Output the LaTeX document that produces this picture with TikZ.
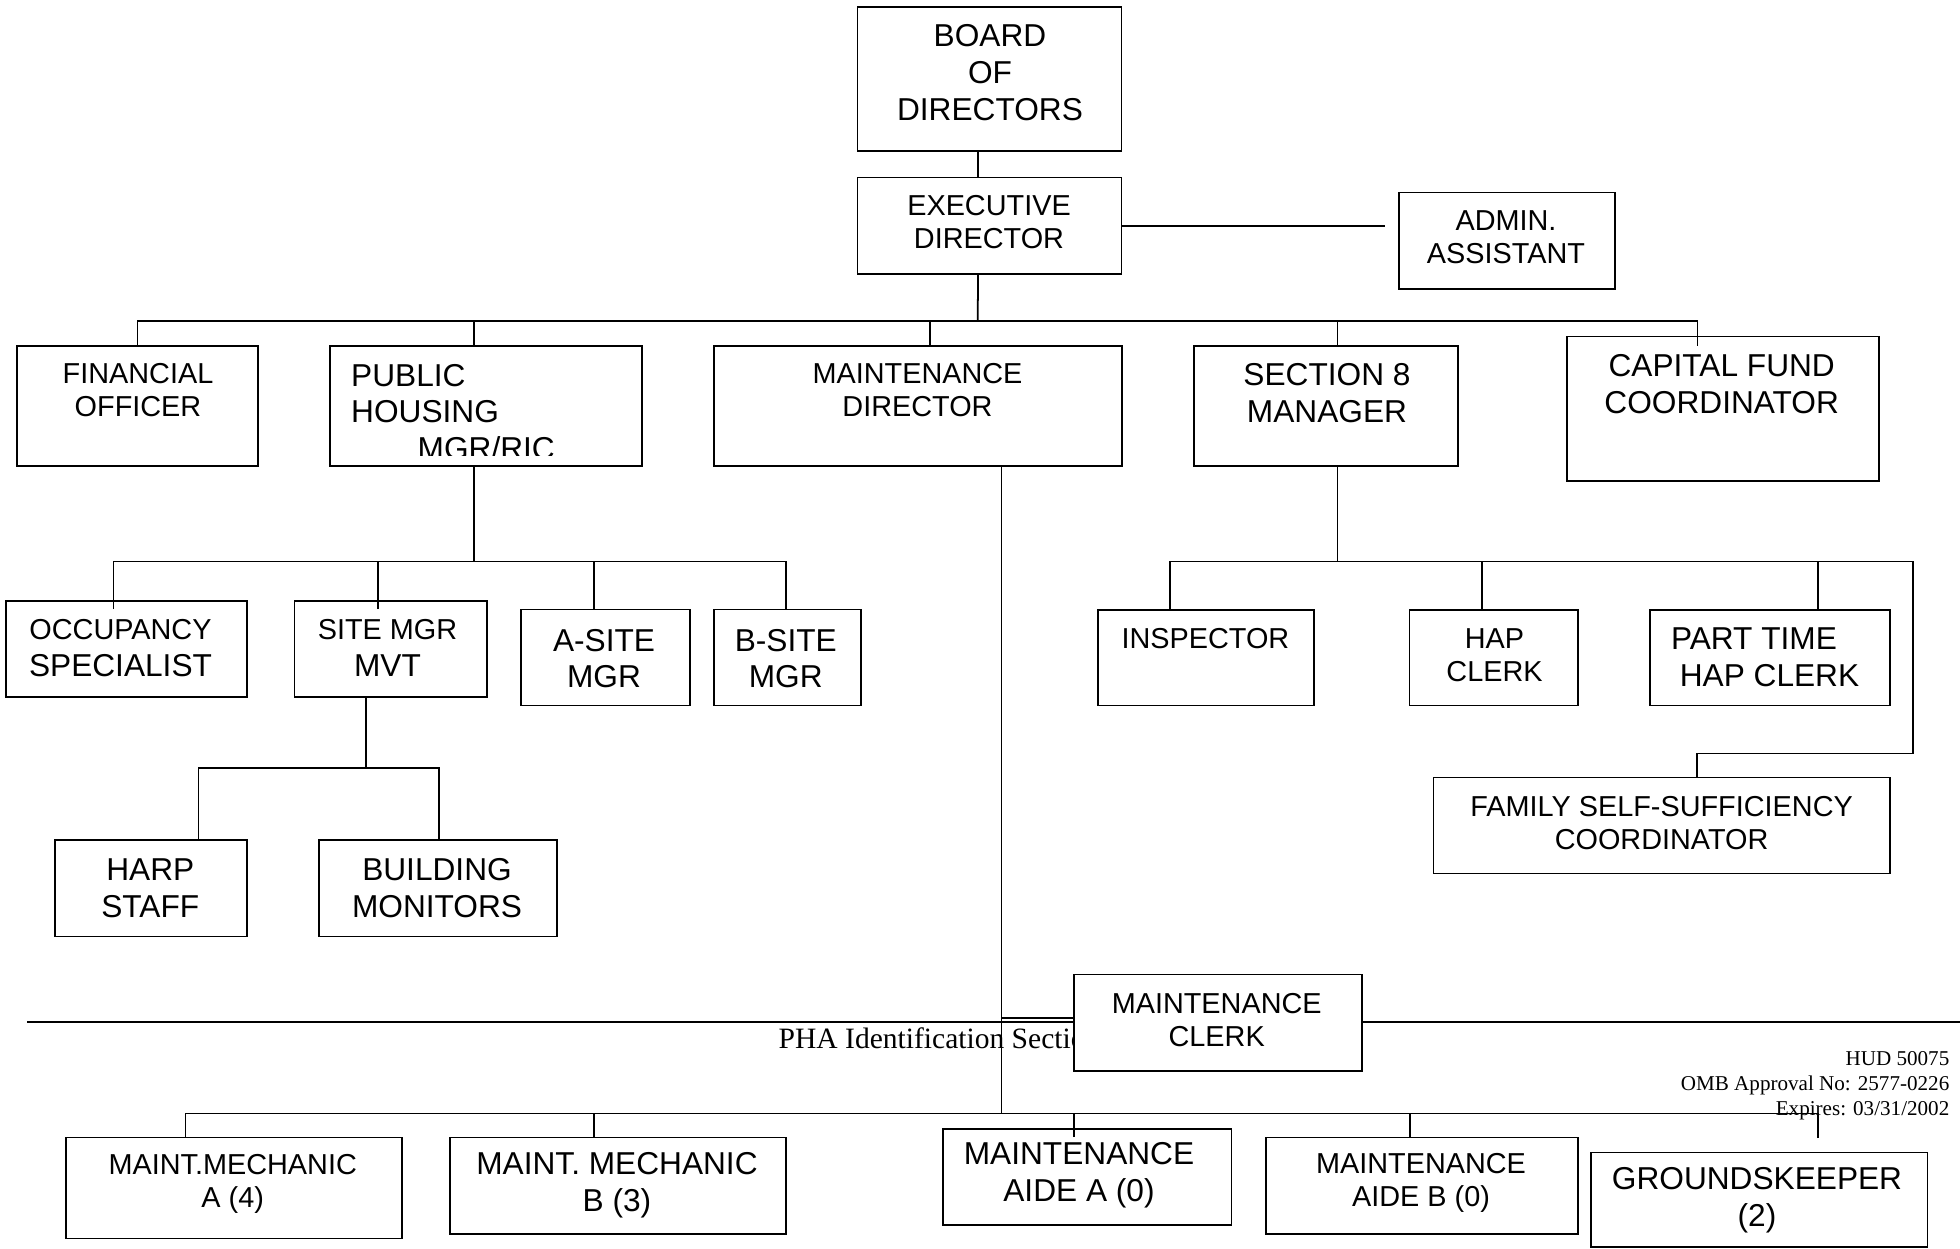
\documentclass[tikz,border=0pt]{standalone}
\usepackage{fontspec}
\setmainfont{Liberation Serif}
\setsansfont{Liberation Sans}
\usetikzlibrary{calc}
\usetikzlibrary{fit}

\newcommand{\smalltxt}{\fontsize{8.2}{9.4}\selectfont}
\tikzset{
  post/.style={draw, line width=0.5pt, fill=white, inner sep=0pt},
  small/.style={font=\sffamily\smalltxt, align=center, inner sep=0pt},
  large/.style={font=\sffamily\fontsize{9}{10.4}\selectfont, align=center, inner sep=0pt},
  wire/.style={line width=0.5pt},
}

\begin{document}
\begin{tikzpicture}[x=0.01cm, y=-0.01cm]
\useasboundingbox (0,0) rectangle (1960,1248);

% page footer
\draw[line width=0.7pt] (27,1022) -- (1960,1022);
\node[font=\rmfamily\fontsize{8.4}{10}\selectfont, anchor=west, inner sep=0pt] (pha) at (778,1038) {PHA Identification Section};
\node[font=\rmfamily\fontsize{6}{7.1}\selectfont, align=right, anchor=east, inner sep=0pt] (hud) at (1950,1085.5) {HUD 50075\\OMB Approval No: 2577-0226\\Expires: 03/31/2002};

% boxes
\node[post, fit={(857.5,7) (1121.5,151)}] (board) {};
\node[post, fit={(857.5,177.5) (1121.5,274)}] (exec) {};
\node[post, fit={(1399,192.5) (1615,289)}] (admin) {};
\node[post, fit={(17,346) (258,466)}] (fin) {};
\node[post, fit={(330,346) (642,466)}] (pubh) {};
\node[post, fit={(714,346) (1122,466)}] (maintdir) {};
\node[post, fit={(1194,346) (1458,466)}] (sec8) {};
\node[post, fit={(1567,336.5) (1879,481)}] (capfund) {};
\node[post, fit={(6,601) (247,697)}] (occ) {};
\node[post, fit={(294.5,601) (487,697)}] (sitemgr) {};
\node[post, fit={(521,609.5) (690,705.5)}] (asite) {};
\node[post, fit={(714,609.5) (861,705.5)}] (bsite) {};
\node[post, fit={(55,840) (247,936.5)}] (harp) {};
\node[post, fit={(319,840) (557,936.5)}] (bldg) {};
\node[post, fit={(1098,610) (1314,705.5)}] (insp) {};
\node[post, fit={(1409.5,610) (1578,705.5)}] (hapclerk) {};
\node[post, fit={(1650,610) (1890,705.5)}] (pthap) {};
\node[post, fit={(1433.5,777.5) (1890,873.5)}] (fss) {};
\node[post, fit={(1074,974.5) (1362,1071)}] (mclerk) {};
\node[post, fit={(66,1137.5) (402,1238.5)}] (mechA) {};
\node[post, fit={(450,1137.5) (786,1234)}] (mechB) {};
\node[post, fit={(943,1129) (1231.5,1225)}] (aideA) {};
\node[post, fit={(1266,1137.5) (1578,1234)}] (aideB) {};
\node[post, fit={(1591,1152.5) (1927.5,1247)}] (grounds) {};

% titles
\node[large] (board-t) at (990,72.6) {BOARD\\OF\\DIRECTORS};
\node[small] (exec-t) at (989,222) {EXECUTIVE\\DIRECTOR};
\node[small] (admin-t) at (1506,237) {ADMIN.\\ASSISTANT};
\node[small] (fin-t) at (138,390) {FINANCIAL\\OFFICER};
\begin{scope}
  \clip (330,346) rectangle (642,455);
  \node[large, align=left, anchor=west] (pubh-t) at (350.5,412) {PUBLIC\\HOUSING\\\hspace{18.9pt}MGR/RIC};
\end{scope}
\node[small] (maintdir-t) at (917.5,390) {MAINTENANCE\\DIRECTOR};
\node[large] (sec8-t) at (1327,393.3) {SECTION 8\\MANAGER};
\node[large] (capfund-t) at (1721.7,384.2) {CAPITAL FUND\\COORDINATOR};
\node[large] (occ-t) at (120.5,648) {{\smalltxt OCCUPANCY}\\SPECIALIST};
\node[large] (sitemgr-t) at (387.5,648) {{\smalltxt SITE MGR}\\MVT};
\node[large] (asite-t) at (604,658.7) {A-SITE\\MGR};
\node[large] (bsite-t) at (785.8,658.7) {B-SITE\\MGR};
\node[large] (harp-t) at (150.3,888) {HARP\\STAFF};
\node[large] (bldg-t) at (437,888) {BUILDING\\MONITORS};
\node[small] (insp-t) at (1205.4,638.3) {INSPECTOR};
\node[small] (hapclerk-t) at (1494.5,655) {HAP\\CLERK};
\node[large, align=left, anchor=west] (pthap-t) at (1670.3,657.5) {PART TIME\\\hspace{2.5pt}HAP CLERK};
\node[small] (fss-t) at (1661.6,823.3) {FAMILY SELF-SUFFICIENCY\\COORDINATOR};
\node[small] (mclerk-t) at (1216.7,1019.8) {MAINTENANCE\\CLERK};
\node[small] (mechA-t) at (232.7,1183.7) {MAINT.MECHANIC\\A (4)};
\node[large] (mechB-t) at (617,1185) {MAINT. MECHANIC\\B (3)};
\node[large] (aideA-t) at (1079,1175) {MAINTENANCE\\AIDE A (0)};
\node[small] (aideB-t) at (1421,1183) {MAINTENANCE\\AIDE B (0)};
\node[large] (grounds-t) at (1757,1200) {GROUNDSKEEPER\\(2)};

% bus points
\coordinate (bus-a) at (977.75,321);
\coordinate (bus-b) at (474,561.5);
\coordinate (bus-c) at (366,768);
\coordinate (bus-d) at (1337.5,561.5);
\coordinate (fss-bend) at (1913,753.5);
\coordinate (bus-e) at (1001.5,1113.5);
\coordinate (grounds-stub) at (1818,1138);
\coordinate (admin-end) at ($(exec.east -| admin.west)+(-13,0)$);

% top level
\draw[wire] ($(board.south)+(-11.5,0)$) -- ($(exec.north)+(-11.5,0)$);
\draw[wire] (exec.east) -- (admin-end);
\draw[wire] ($(exec.south)+(-11.5,0)$) -- (bus-a);
\draw[wire] (fin.north) |- (bus-a) -| ($(capfund.north)+(-25.5,10)$);
\draw[wire] ($(pubh.north)+(-12,0)$) |- (bus-a);
\draw[wire] ($(maintdir.north)+(12,0)$) |- (bus-a);
\draw[wire] ($(sec8.north)+(11.5,0)$) |- (bus-a);

% public housing
\draw[wire] ($(pubh.south)+(-12,0)$) -- (bus-b);
\draw[wire] ($(occ.north)+(-13,9)$) |- (bus-b);
\draw[wire] ($(sitemgr.north)+(-13,9)$) |- (bus-b);
\draw[wire] ($(asite.north)+(-11.5,0)$) |- (bus-b);
\draw[wire] ($(bsite.north)+(-1.5,0)$) |- (bus-b);
\draw[wire] ($(sitemgr.south)+(-24.75,0)$) -- (bus-c);
\draw[wire] ($(harp.north)+(47.5,0)$) |- (bus-c);
\draw[wire] ($(bldg.north)+(1,0)$) |- (bus-c);

% section 8
\draw[wire] ($(sec8.south)+(11.5,0)$) -- (bus-d);
\draw[wire] ($(insp.north)+(-36,0)$) |- (bus-d);
\draw[wire] ($(hapclerk.north)+(-12,0)$) |- (bus-d);
\draw[wire] ($(pthap.north)+(48,0)$) |- (bus-d);
\draw[wire] (bus-d) -| (fss-bend) -| ($(fss.north)+(35.5,0)$);

% maintenance
\draw[wire] ($(maintdir.south)+(83.5,0)$) -- (bus-e);
\draw[wire] ($(mclerk.west)+(0,-5)$) -| (bus-e);
\draw[wire] ($(mechA.north)+(-48.5,0)$) |- (bus-e);
\draw[wire] ($(mechB.north)+(-24,0)$) |- (bus-e);
\draw[wire] ($(aideA.north)+(-13,9)$) |- (bus-e);
\draw[wire] ($(aideB.north)+(-12,0)$) |- (bus-e);
\draw[wire] (grounds-stub) |- (bus-e);
\end{tikzpicture}
\end{document}
